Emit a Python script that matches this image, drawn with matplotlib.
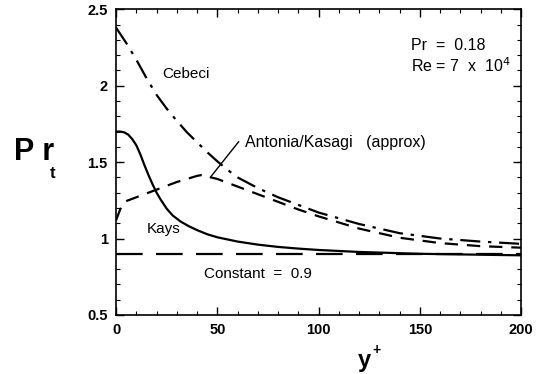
import matplotlib
matplotlib.use("Agg")
import matplotlib.pyplot as plt
from matplotlib.ticker import MultipleLocator

plt.rcParams['font.family'] = ['Liberation Sans', 'DejaVu Sans']

# Data
cebeci_x = [0, 5, 10, 15, 20, 25, 30, 35, 40, 45, 50, 55, 60, 70, 80, 90, 100, 120, 140, 160, 180, 200]
cebeci_y = [2.38, 2.28, 2.17, 2.05, 1.94, 1.85, 1.77, 1.695, 1.63, 1.565, 1.505, 1.45, 1.40, 1.33, 1.27, 1.22, 1.17, 1.095, 1.035, 1.00, 0.98, 0.965]

antonia_x = [0, 2, 4, 10, 20, 30, 40, 42, 50, 60, 70, 80, 90, 100, 120, 140, 160, 180, 200]
antonia_y = [1.12, 1.19, 1.24, 1.27, 1.32, 1.37, 1.41, 1.415, 1.39, 1.34, 1.29, 1.24, 1.19, 1.145, 1.065, 1.005, 0.97, 0.95, 0.94]

kays_x = [0, 2, 4, 6, 8, 10, 12, 14, 16, 18, 20, 22, 25, 28, 32, 36, 40, 45, 50, 60, 70, 80, 90, 100, 120, 150, 200]
kays_y = [1.70, 1.70, 1.695, 1.68, 1.65, 1.61, 1.55, 1.48, 1.415, 1.355, 1.30, 1.255, 1.195, 1.15, 1.11, 1.08, 1.055, 1.028, 1.008, 0.98, 0.96, 0.945, 0.934, 0.925, 0.912, 0.90, 0.89]

const_x = [0, 200]
const_y = [0.9, 0.9]

xticks = [0, 50, 100, 150, 200]
yticks = [0.5, 1.0, 1.5, 2.0, 2.5]
yticklabels = ['0.5', '1', '1.5', '2', '2.5']

fig = plt.figure(figsize=(5.4, 3.74), dpi=100)
ax = fig.add_axes([0.215, 0.158, 0.75, 0.817])

lw = 1.6
ax.plot(cebeci_x, cebeci_y, color='black', lw=lw, dashes=(9, 3.5, 1.5, 3.5))
ax.plot(antonia_x, antonia_y, color='black', lw=lw, dashes=(6, 4))
ax.plot(kays_x, kays_y, color='black', lw=lw, linestyle='-')
ax.plot(const_x, const_y, color='black', lw=lw, dashes=(12, 6))

ax.set_xlim(0, 200)
ax.set_ylim(0.5, 2.5)
ax.set_xticks(xticks)
ax.set_yticks(yticks)
ax.set_yticklabels(yticklabels)
ax.xaxis.set_minor_locator(MultipleLocator(10))
ax.yaxis.set_minor_locator(MultipleLocator(0.1))
ax.tick_params(which='both', direction='in', top=True, right=True)
ax.tick_params(which='major', length=6, width=1, labelsize=10.5, pad=6)
ax.tick_params(which='minor', length=3, width=0.8)
for lab in ax.get_xticklabels() + ax.get_yticklabels():
    lab.set_fontweight('bold')
for s in ax.spines.values():
    s.set_linewidth(1.2)

fs = 11
ax.text(22.6, 2.075, 'Cebeci', fontsize=fs, va='center')
ax.text(63.5, 1.63, 'Antonia/Kasagi   (approx)', fontsize=11.5, va='center')
ax.plot([46.5, 60.5], [1.40, 1.633], color='black', lw=1)
ax.text(14.9, 1.062, 'Kays', fontsize=fs, va='center')
ax.text(43.5, 0.77, 'Constant  =  0.9', fontsize=fs, va='center')
ax.text(145.5, 2.263, 'Pr  =  0.18', fontsize=11.5, va='center')
ax.text(145.5, 2.13, r'Re = 7  x  10$^4$', fontsize=11.5, va='center')

fig.text(0.026, 0.572, 'P r', fontsize=22, fontweight='bold', va='baseline', ha='left')
fig.text(0.093, 0.524, 't', fontsize=12, fontweight='bold', va='baseline', ha='left')
fig.text(0.674, 0.035, 'y', fontsize=17, fontweight='bold', va='center', ha='center')
fig.text(0.698, 0.064, '+', fontsize=10, fontweight='bold', va='center', ha='center')

fig.savefig('out.png', dpi=100)
